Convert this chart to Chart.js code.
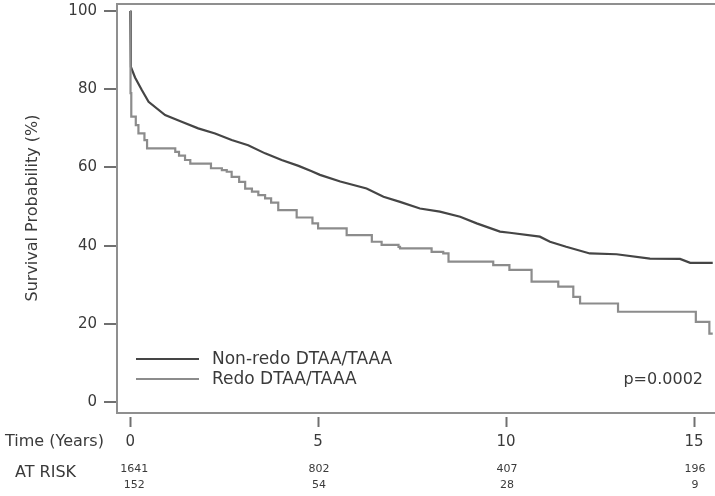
<!DOCTYPE html>
<html>
<head>
<meta charset="utf-8">
<script src="https://cdn.jsdelivr.net/npm/chart.js@4"></script>
<style>
  html, body { margin: 0; padding: 0; background: #fff; }
  #wrap { width: 715px; height: 496px; position: relative; }
</style>
</head>
<body>
<div id="wrap"><canvas id="c" width="715" height="496"></canvas></div>
<script>
// ---- data ----
const seriesNames = ["Non-redo DTAA/TAAA", "Redo DTAA/TAAA"];

const nonRedoTime = [0, 0.02, 0.13, 0.31, 0.49, 0.93, 1.37, 1.81, 2.26, 2.7, 3.14, 3.59, 4.03, 4.48, 4.83, 5.05, 5.59, 6.29, 6.74, 7.18, 7.71, 8.24, 8.78, 9.22, 9.84, 10.1, 10.9, 11.17, 11.6, 12.23, 12.94, 13.83, 14.63, 14.9, 15.5];
const nonRedoSurv = [100, 85.7, 83, 79.8, 76.8, 73.4, 71.7, 70, 68.7, 67, 65.7, 63.6, 61.9, 60.4, 59, 58.1, 56.4, 54.6, 52.5, 51.2, 49.5, 48.7, 47.4, 45.7, 43.6, 43.3, 42.3, 41, 39.7, 38, 37.8, 36.7, 36.6, 35.6, 35.6];

const redoTime = [0, 0.01, 0.03, 0.15, 0.22, 0.38, 0.45, 1.2, 1.3, 1.46, 1.6, 2.15, 2.44, 2.57, 2.7, 2.9, 3.06, 3.24, 3.41, 3.59, 3.75, 3.94, 4.43, 4.85, 5.0, 5.76, 6.43, 6.69, 7.14, 7.18, 8.02, 8.33, 8.47, 9.66, 10.09, 10.68, 11.39, 11.79, 11.97, 12.98, 15.05, 15.41, 15.5];
const redoSurv = [100, 79, 73, 70.8, 68.7, 67, 64.9, 64, 63, 61.9, 61, 59.8, 59.3, 58.9, 57.6, 56.3, 54.6, 53.8, 52.9, 52.1, 51, 49.1, 47.2, 45.7, 44.4, 42.7, 41, 40.2, 39.7, 39.3, 38.4, 38, 35.9, 35, 33.8, 30.8, 29.5, 26.9, 25.2, 23.1, 20.5, 17.5, 17.5];

const xTicks = [0, 5, 10, 15];
const yTicks = [0, 20, 40, 60, 80, 100];
const atRiskNonRedo = [1641, 802, 407, 196];
const atRiskRedo = [152, 54, 28, 9];
const pValueText = "p=0.0002";
const xTitle = "Time (Years)";
const yTitle = "Survival Probability (%)";
const atRiskTitle = "AT RISK";

// ---- chart ----
const FONT = "'DejaVu Sans', sans-serif";
Chart.defaults.font.family = FONT;
const DARK = "#454545";
const LIGHT = "#8c8c8c";
const TEXT = "#3a3a3a";
const BOX = "#8f8f8f";

const toPts = (t, s) => t.map((v, i) => ({ x: v, y: s[i] }));

const decor = {
  id: 'decor',
  afterDraw(chart) {
    const ctx = chart.ctx;
    const a = chart.chartArea;
    const xs = chart.scales.x;
    ctx.save();
    // box (top, left, bottom)
    ctx.strokeStyle = BOX;
    ctx.lineWidth = 2;
    ctx.beginPath();
    ctx.moveTo(chart.width + 2, a.top);
    ctx.lineTo(a.left, a.top);
    ctx.lineTo(a.left, a.bottom);
    ctx.lineTo(chart.width + 2, a.bottom);
    ctx.stroke();
    // x tick marks, detached from box
    ctx.strokeStyle = "#707070";
    ctx.lineWidth = 2;
    xTicks.forEach(v => {
      const px = Math.round(xs.getPixelForValue(v)) + 0.5;
      ctx.beginPath();
      ctx.moveTo(px, a.bottom + 4);
      ctx.lineTo(px, a.bottom + 14);
      ctx.stroke();
    });
    ctx.fillStyle = TEXT;
    // x title
    ctx.font = "16px " + FONT;
    ctx.textAlign = "left";
    ctx.textBaseline = "middle";
    ctx.fillText(xTitle, 5, 442);
    // at risk
    ctx.fillText(atRiskTitle, 15, 473);
    ctx.font = "11px " + FONT;
    ctx.textAlign = "center";
    xTicks.forEach((v, i) => {
      const px = xs.getPixelForValue(v) + (i === 0 ? 4 : 1);
      ctx.fillText(String(atRiskNonRedo[i]), px, 469);
      ctx.fillText(String(atRiskRedo[i]), px, 485);
    });
    // y title
    ctx.save();
    ctx.translate(33, 208);
    ctx.rotate(-Math.PI / 2);
    ctx.font = "16px " + FONT;
    ctx.textAlign = "center";
    ctx.textBaseline = "middle";
    ctx.fillText(yTitle, 0, 0);
    ctx.restore();
    // legend
    const ds = chart.data.datasets;
    const legY = [359, 379];
    ds.forEach((d, i) => {
      ctx.strokeStyle = d.borderColor;
      ctx.lineWidth = 2;
      ctx.beginPath();
      ctx.moveTo(136, legY[i]);
      ctx.lineTo(199, legY[i]);
      ctx.stroke();
      ctx.fillStyle = TEXT;
      ctx.font = "17px " + FONT;
      ctx.textAlign = "left";
      ctx.textBaseline = "middle";
      ctx.fillText(d.label, 212, legY[i] + 1);
    });
    // p value
    ctx.font = "16px " + FONT;
    ctx.textAlign = "right";
    ctx.fillText(pValueText, 703, 380);
    ctx.restore();
  }
};

new Chart(document.getElementById('c'), {
  type: 'line',
  data: {
    datasets: [
      {
        label: seriesNames[0],
        data: toPts(nonRedoTime, nonRedoSurv),
        borderColor: DARK,
        borderWidth: 2.2,
        pointRadius: 0,
        fill: false,
        tension: 0,
        order: 2
      },
      {
        label: seriesNames[1],
        data: toPts(redoTime, redoSurv),
        borderColor: LIGHT,
        borderWidth: 2.2,
        pointRadius: 0,
        fill: false,
        stepped: 'before',
        order: 1
      }
    ]
  },
  options: {
    responsive: false,
    animation: false,
    events: [],
    layout: { padding: { top: 4, left: 0, right: 0, bottom: 0 } },
    plugins: { legend: { display: false }, tooltip: { enabled: false }, title: { display: false } },
    scales: {
      x: {
        type: 'linear',
        position: 'bottom',
        min: -0.35,
        max: 15.56,
        afterBuildTicks: s => { s.ticks = xTicks.map(v => ({ value: v })); },
        afterFit: s => { s.height = 83; s.paddingLeft = 0; s.paddingRight = 0; },
        grid: { display: false, drawTicks: false, tickLength: 0 },
        border: { display: false },
        ticks: { color: TEXT, font: { size: 15 }, padding: 20, maxRotation: 0, autoSkip: false }
      },
      y: {
        type: 'linear',
        min: -2.8,
        max: 101.8,
        afterBuildTicks: s => { s.ticks = yTicks.map(v => ({ value: v })); },
        afterFit: s => { s.width = 117; s.paddingTop = 0; s.paddingBottom = 0; },
        grid: { display: true, drawOnChartArea: false, drawTicks: true, tickLength: 13, color: "#707070", lineWidth: 2 },
        border: { display: false },
        ticks: { color: TEXT, font: { size: 15 }, padding: 7, autoSkip: false }
      }
    }
  },
  plugins: [decor]
});
</script>
</body>
</html>
